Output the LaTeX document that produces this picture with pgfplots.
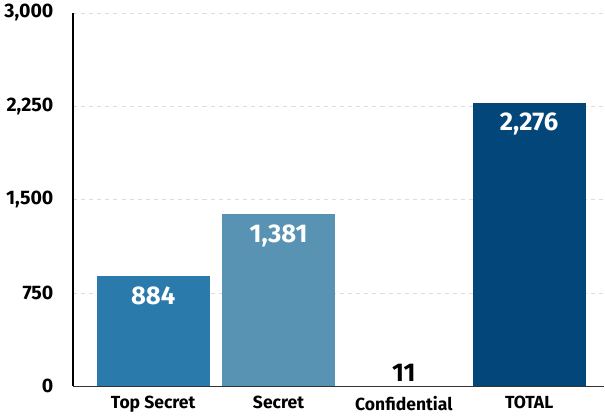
\documentclass[border=0pt]{standalone}
\usepackage{pgfplots}
\pgfplotsset{compat=1.18}
\usepackage{fontspec}
\setmainfont{Fira Sans}
\definecolor{cTS}{HTML}{2A7AAB}
\definecolor{cS}{HTML}{5893B4}
\definecolor{cT}{HTML}{03467A}
\definecolor{gridc}{HTML}{DDDDDD}
\begin{document}
\begin{tikzpicture}
\begin{axis}[
  scale only axis,
  width=394pt, height=276.75pt,
  ymin=0, ymax=3000,
  xmin=-0.64, xmax=3.6,
  ytick={0,750,1500,2250,3000},
  xtick={0,1,2,3},
  xticklabels={Top Secret,Secret,Confidential,TOTAL},
  axis x line*=bottom,
  axis y line*=left,
  x axis line style={draw=black!80, line width=1pt, -},
  y axis line style={draw=black, line width=1pt, -},
  major tick length=0pt,
  ymajorgrids,
  grid style={gridc, dashed, line width=0.5pt},
  /pgf/number format/assume math mode=true,
  /pgf/number format/1000 sep={,},
  yticklabel style={font=\fontsize{14.5}{16}\selectfont\bfseries, xshift=-11pt},
  xticklabel style={font=\fontsize{13}{15}\selectfont\bfseries, yshift=-4pt},
  ybar, bar width=0.9, bar shift=0pt,
  nodes near coords,
  nodes near coords style={font=\fontsize{19}{21}\selectfont\bfseries, /pgf/number format/1000 sep={,}},
]
\addplot[fill=cTS, draw=none, nodes near coords align={below}, nodes near coords style={white, yshift=-4pt}] coordinates {(0,884)};
\addplot[fill=cS, draw=none, nodes near coords align={below}, nodes near coords style={white, yshift=-4pt}] coordinates {(1,1381)};
\addplot[fill=white, draw=none, nodes near coords align={above}, nodes near coords style={black, yshift=-1pt}] coordinates {(2,11)};
\addplot[fill=cT, draw=none, nodes near coords align={below}, nodes near coords style={white, yshift=-4pt}] coordinates {(3,2276)};
\end{axis}
\end{tikzpicture}
\end{document}
